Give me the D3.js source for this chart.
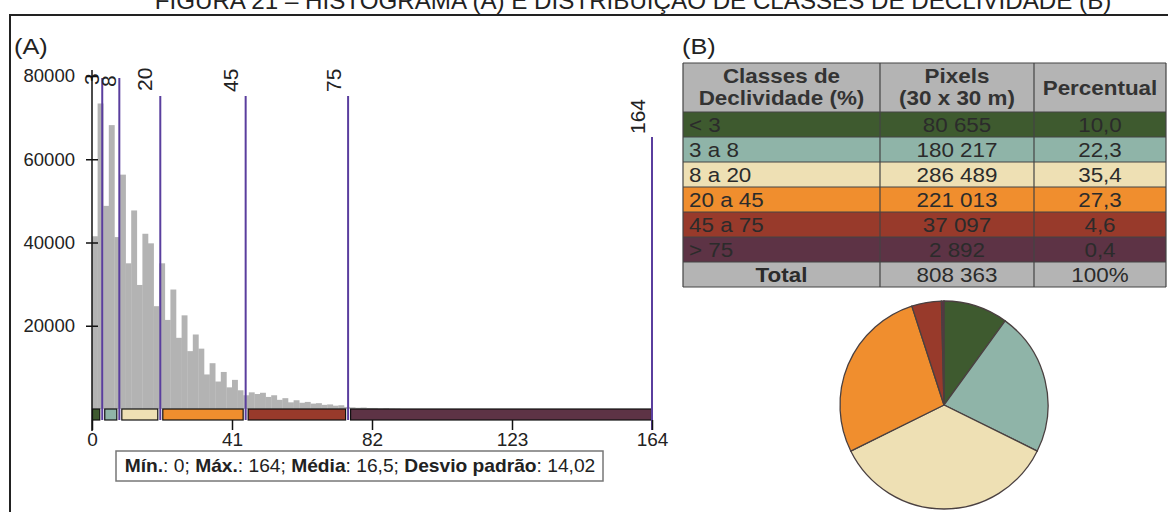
<!DOCTYPE html>
<html><head><meta charset="utf-8">
<script src="https://cdn.jsdelivr.net/npm/d3@7/dist/d3.min.js"></script>
<style>
html,body{margin:0;padding:0;background:#fff;}
svg{display:block;font-family:"Liberation Sans",Arial,sans-serif;}
</style></head>
<body><svg id="c" width="1168" height="512"></svg>
<script>
// ---------- DATA ----------
const titleText = "FIGURA 21 – HISTOGRAMA (A) E DISTRIBUIÇÃO DE CLASSES DE DECLIVIDADE (B)";
const binWidth = 1.64; // histogram bin width (% slope)
const histCounts = [41500,73400,48800,68200,41300,56300,35000,47700,29800,42100,
  39800,24700,35000,21400,28700,17100,22500,13900,17900,14500,
  8300,11000,6600,8900,5200,7000,4500,3300,4000,3600,
  3900,2900,3300,2200,2600,1600,2100,1500,1700,1300,
  1400,1000,1100,800,900,500,400,300,350,250,
  250,150,200,100,80];
const classBreaks = [0,3,8,20,45,75,164];
const breakLabels = ["3","8","20","45","75","164"];
const xTicks = [0,41,82,123,164];
const yTicks = [20000,40000,60000,80000];
const classLabels = ["< 3","3 a 8","8 a 20","20 a 45","45 a 75","> 75"];
const classPixels = ["80 655","180 217","286 489","221 013","37 097","2 892"];
const classPercent = [10.0,22.3,35.4,27.3,4.6,0.4];
const totalRow = ["Total","808 363","100%"];
const classColors = ["#3e5a2f","#8fb4a8","#eee0b4","#f08e2e","#983a2b","#5d3345"];
const statsParts = [["Mín.",true],[": 0; ",false],["Máx.",true],[": 164; ",false],["Média",true],[": 16,5; ",false],["Desvio padrão",true],[": 14,02",false]];

// ---------- DRAW ----------
const svg = d3.select("#c");
const FONT = "'Liberation Sans',Arial,sans-serif";
const SX = 1.15; // horizontal stretch of the source figure's text

function wideText(g, x, y, str, size, anchor, bold, fill){
  return g.append("text").attr("transform",`translate(${x},${y}) scale(${SX},1)`)
    .attr("text-anchor",anchor).style("font-size",size+"px")
    .style("font-weight",bold?"bold":"normal").attr("fill",fill||"#2b2b2b").text(str);
}

// title (cut at top in the source)
const t = svg.append("text").attr("x",633).attr("y",9).attr("text-anchor","middle")
  .attr("fill","#222").style("font-size","20px").text(titleText);
const tw = t.node().getComputedTextLength();
t.style("font-size",(20*957/tw)+"px");

// frame
svg.append("path").attr("d","M10,512V15H1168").attr("fill","none").attr("stroke","#222").attr("stroke-width",2);
wideText(svg,14,54,"(A)",22,"start",false,"#222");
wideText(svg,682,54,"(B)",22,"start",false,"#222");

// ---- histogram ----
const x = d3.scaleLinear().domain([0,164]).range([92,652]);
const y = d3.scaleLinear().domain([0,80000]).range([409,76]);

svg.append("g").selectAll("rect").data(histCounts).join("rect")
  .attr("x",(d,i)=>x(i*binWidth))
  .attr("width",(d,i)=>x((i+1)*binWidth)-x(i*binWidth)+0.3)
  .attr("y",d=>y(d)).attr("height",d=>y(0)-y(d))
  .attr("fill","#b3b3b3");

// class bar
const segs = d3.pairs(classBreaks);
const sx0 = (d,i)=> i===0 ? x(d[0])+0.5 : x(d[0])+2.5;
const sx1 = (d,i)=> i===segs.length-1 ? x(d[1])-0.5 : x(d[1])-2.5;
svg.append("g").selectAll("rect").data(segs).join("rect")
  .attr("x",sx0).attr("width",(d,i)=>sx1(d,i)-sx0(d,i))
  .attr("y",409).attr("height",11)
  .attr("fill",(d,i)=>classColors[i]).attr("stroke","#111").attr("stroke-width",1.2);

// break lines
const lineTop = {"3":78,"8":78,"20":96,"45":96,"75":96,"164":137};
const bl = svg.append("g");
classBreaks.slice(1).forEach((b,i)=>{
  const lab = breakLabels[i];
  bl.append("line").attr("x1",x(b)).attr("x2",x(b)).attr("y1",lineTop[lab]).attr("y2",b===164?430:420)
    .attr("stroke","#5a3e9e").attr("stroke-width",2);
});
const labPos = {"3":[99,85],"8":[116,87],"20":[152,91],"45":[238,92],"75":[341,92],"164":[645,134]};
breakLabels.forEach(l=>{
  const p = labPos[l];
  bl.append("text").attr("transform",`translate(${p[0]},${p[1]}) rotate(-90)`)
    .attr("text-anchor","start").style("font-size","21px").attr("fill","#222").text(l);
});

// y axis
const ya = svg.append("g").attr("transform","translate(92,0)")
  .call(d3.axisLeft(y).tickValues(yTicks).tickSize(6).tickPadding(11).tickFormat(d3.format("d")));
ya.select(".domain").remove();
ya.selectAll(".tick line").attr("x1",6).attr("x2",-6).attr("stroke","#111").attr("stroke-width",1.5);
ya.selectAll(".tick text").style("font-size","18.5px").style("font-family",FONT).attr("fill","#222");
svg.append("line").attr("x1",92).attr("x2",92).attr("y1",70).attr("y2",431).attr("stroke","#111").attr("stroke-width",1.5);

// x axis
const xa = svg.append("g").attr("transform","translate(0,420)")
  .call(d3.axisBottom(x).tickValues(xTicks).tickSize(10).tickPadding(3));
xa.select(".domain").remove();
xa.selectAll(".tick line").attr("stroke","#111").attr("stroke-width",1.5);
xa.selectAll(".tick text").style("font-size","19px").style("font-family",FONT).attr("fill","#222");

// stats box
svg.append("rect").attr("x",116).attr("y",451).attr("width",487).attr("height",30)
  .attr("fill","#fff").attr("stroke","#777").attr("stroke-width",1.5);
const st = svg.append("text").attr("text-anchor","middle").style("font-size","17.5px").attr("fill","#222");
statsParts.forEach(p=>st.append("tspan").style("font-weight",p[1]?"bold":"normal").text(p[0]));
const sw = st.node().getComputedTextLength();
st.attr("transform",`translate(360,472) scale(${471/sw},1)`);

// ---- table ----
const colX = [683,880,1034,1166];
const rowY0 = 112, rowH = 25, headTop = 63;
const tbl = svg.append("g");
tbl.append("rect").attr("x",colX[0]).attr("y",headTop).attr("width",colX[3]-colX[0]).attr("height",rowY0-headTop).attr("fill","#b4b4b4");
const headers = [["Classes de","Declividade (%)"],["Pixels","(30 x 30 m)"],["Percentual"]];
headers.forEach((h,ci)=>{
  const cx = (colX[ci]+colX[ci+1])/2;
  h.forEach((s,k)=>{
    const yy = h.length===1 ? 95 : 83 + k*22;
    wideText(tbl,cx,yy,s,19.5,"middle",true,"#333");
  });
});
const rows = classLabels.map((c,i)=>[c,classPixels[i],d3.format(".1f")(classPercent[i]).replace(".",","),classColors[i]]);
rows.push([totalRow[0],totalRow[1],totalRow[2],"#b4b4b4"]);
rows.forEach((r,ri)=>{
  const yy = rowY0 + ri*rowH;
  tbl.append("rect").attr("x",colX[0]).attr("y",yy).attr("width",colX[3]-colX[0]).attr("height",rowH).attr("fill",r[3]);
  const isTot = ri===rows.length-1;
  for(let ci=0;ci<3;ci++){
    const left = ci===0 && !isTot;
    wideText(tbl, left?colX[0]+6:(colX[ci]+colX[ci+1])/2, yy+rowH/2+7, r[ci], 19.5,
      left?"start":"middle", isTot&&ci===0, "#2b2b2b");
  }
});
const nRows = rows.length;
for(let k=0;k<=nRows;k++){
  const yy = rowY0 + k*rowH;
  tbl.append("line").attr("x1",colX[0]).attr("x2",colX[3]).attr("y1",yy).attr("y2",yy).attr("stroke","#444").attr("stroke-width",1.2);
}
tbl.append("line").attr("x1",colX[0]).attr("x2",colX[3]).attr("y1",headTop).attr("y2",headTop).attr("stroke","#444").attr("stroke-width",1.2);
colX.forEach(cx=>tbl.append("line").attr("x1",cx).attr("x2",cx).attr("y1",headTop).attr("y2",rowY0+nRows*rowH).attr("stroke","#444").attr("stroke-width",1.2));

// ---- pie ----
const pie = d3.pie().sort(null).value(d=>d)(classPercent);
const arc = d3.arc().innerRadius(0).outerRadius(104);
svg.append("g").attr("transform","translate(944,405)").selectAll("path").data(pie).join("path")
  .attr("d",arc).attr("fill",(d,i)=>classColors[i]).attr("stroke","#4a4040").attr("stroke-width",1.3);
</script></body></html>
